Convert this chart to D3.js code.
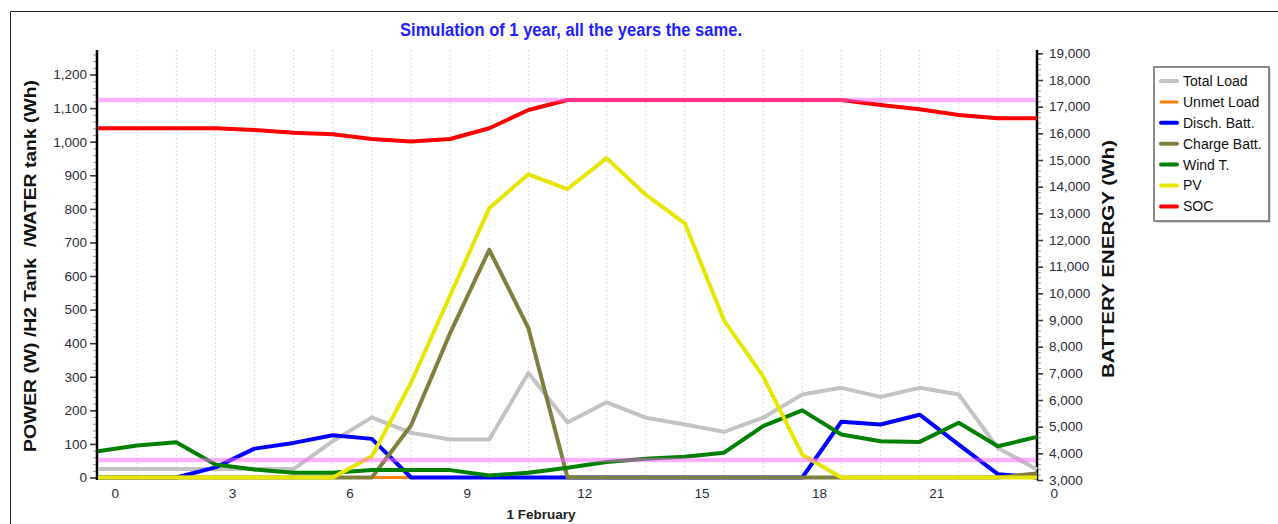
<!DOCTYPE html>
<html>
<head>
<meta charset="utf-8">
<script src="https://cdn.jsdelivr.net/npm/d3@7"></script>
<style>
	body { margin: 0; background: #fff; }
	svg { display: block; font-family: "Liberation Sans", Arial, sans-serif; }
</style>
</head>
<body>
<svg id="chart" width="1278" height="524"></svg>
<script>
// Hourly values for 1 February, hour 0 .. hour 24
const hours = [0, 1, 2, 3, 4, 5, 6, 7, 8, 9, 10, 11, 12, 13, 14, 15, 16, 17, 18, 19, 20, 21, 22, 23, 24]
const hourTicks = [0, 3, 6, 9, 12, 15, 18, 21, 24]
const hourTickLabels = ["0", "3", "6", "9", "12", "15", "18", "21", "0"]

const totalLoad = [25, 25, 25, 25, 25, 25, 108, 179, 133, 113, 113, 311, 164, 224, 178, 158, 136, 178, 247, 267, 240, 267, 247, 88, 24]
const unmetLoad = [0, 0, 0, 0, 0, 0, 0, 0, 0, 0, 0, 0, 0, 0, 0, 0, 0, 0, 0, 0, 0, 0, 0, 0, 0]
const dischBatt = [0, 0, 0, 30, 86, 103, 126, 115, 0, 0, 0, 0, 0, 0, 0, 0, 0, 0, 0, 166, 158, 187, 98, 10, 0]
const chargeBatt = [0, 0, 0, 0, 0, 0, 0, 0, 155, 430, 678, 445, 0, 0, 0, 0, 0, 0, 0, 0, 0, 0, 0, 0, 12]
const windT = [78, 95, 105, 39, 24, 14, 14, 22, 22, 22, 6, 14, 29, 46, 56, 62, 74, 153, 200, 128, 108, 106, 163, 93, 121]
const pv = [0, 0, 0, 0, 0, 0, 0, 63, 282, 542, 802, 903, 859, 951, 842, 757, 468, 301, 68, 0, 0, 0, 0, 0, 0]
const soc = [16190, 16190, 16190, 16190, 16125, 16023, 15962, 15786, 15692, 15786, 16190, 16874, 17250, 17250, 17250, 17250, 17250, 17250, 17250, 17250, 17061, 16900, 16686, 16562, 16562]

// battery SOC limits (max / min), drawn as pink bands
const socLimits = [17250, 3750]

const seriesNames = ["Total Load", "Unmet Load", "Disch. Batt.", "Charge Batt.", "Wind T.", "PV", "SOC"]
const seriesColours = ["#c3c3c3", "#ff8000", "#0000ff", "#7f7f40", "#008000", "#e6e600", "#ff0000"]

const config = {
	width: 1278,
	height: 524,
	plot: { left: 98, right: 1037, top: 50, bottom: 478 },
	lineWidth: 4,
	fontSize: 13.5,
	labelColour: "#2b2b3b",
}

const series = [totalLoad, unmetLoad, dischBatt, chargeBatt, windT, pv, soc].map((values, i) => ({
	name: seriesNames[i],
	colour: seriesColours[i],
	values: values,
	axis: seriesNames[i] === "SOC" ? "right" : "left",
	width: seriesNames[i] === "Unmet Load" ? 3 : config.lineWidth,
}))

const scales = {
	x: d3.scaleLinear()
		.domain([0, 24])
		.range([config.plot.left, config.plot.right]),
	left: d3.scaleLinear()
		.domain([0, 1273])
		.range([477.5, config.plot.top]),
	right: d3.scaleLinear()
		.domain([3000, 19125])
		.range([480, config.plot.top]),
}

const svg = d3.select("#chart")

// Outer frame (top and left edges only are visible)
svg.append("path")
	.attr("d", `M10.5,${config.height} V11.5 H${config.width}`)
	.attr("fill", "none")
	.attr("stroke", "#222")
	.attr("stroke-width", 1)

// Title
svg.append("text")
	.attr("x", 571)
	.attr("y", 36)
	.attr("text-anchor", "middle")
	.attr("textLength", 342)
	.attr("lengthAdjust", "spacingAndGlyphs")
	.style("font-family", "'Liberation Sans Narrow', 'Arial Narrow', 'Liberation Sans', sans-serif")
	.style("font-weight", "bold")
	.style("font-size", "18px")
	.attr("fill", "#1f1fff")
	.text("Simulation of 1 year, all the years the same.")

// Vertical dotted grid, one line per hour
svg.append("g")
	.attr("class", "grid")
	.selectAll("line")
	.data(hours.slice(1, -1))
	.join("line")
	.attr("x1", d => scales.x(d))
	.attr("x2", d => scales.x(d))
	.attr("y1", config.plot.top)
	.attr("y2", config.plot.bottom)
	.attr("stroke", "#dcdcdc")
	.attr("stroke-dasharray", "2,2")

// Left axis: minor ticks, then majors with labels
svg.append("g")
	.attr("transform", `translate(${config.plot.left - 1}, 0)`)
	.call(d3.axisLeft(scales.left).tickValues(d3.range(0, 1273, 20)).tickSize(4).tickFormat(""))
	.call(g => g.select(".domain").remove())
	.call(g => g.selectAll("line").attr("stroke", "#9a9a9a"))

svg.append("g")
	.attr("transform", `translate(${config.plot.left - 1}, 0)`)
	.call(d3.axisLeft(scales.left).tickValues(d3.range(0, 1201, 100)).tickFormat(d3.format(",")).tickSize(7).tickPadding(3))
	.call(g => g.select(".domain").remove())
	.call(g => g.selectAll("line").attr("stroke", "#333").attr("stroke-width", 1.5))
	.call(g => g.selectAll("text")
		.attr("fill", config.labelColour)
		.style("font-size", `${config.fontSize}px`)
		.style("font-family", "'Liberation Sans', Arial, sans-serif"))

// Right axis
svg.append("g")
	.attr("transform", `translate(${config.plot.right}, 0)`)
	.call(d3.axisRight(scales.right).tickValues(d3.range(3000, 19125, 200)).tickSize(4).tickFormat(""))
	.call(g => g.select(".domain").remove())
	.call(g => g.selectAll("line").attr("stroke", "#9a9a9a"))

svg.append("g")
	.attr("transform", `translate(${config.plot.right}, 0)`)
	.call(d3.axisRight(scales.right).tickValues(d3.range(3000, 19001, 1000)).tickFormat(d3.format(",")).tickSize(6).tickPadding(6))
	.call(g => g.select(".domain").remove())
	.call(g => g.selectAll("line").attr("stroke", "#333").attr("stroke-width", 1.5))
	.call(g => g.selectAll("text")
		.attr("fill", config.labelColour)
		.style("font-size", `${config.fontSize}px`)
		.style("font-family", "'Liberation Sans', Arial, sans-serif"))

// Axis lines
svg.selectAll("line.axisLine")
	.data([config.plot.left - 1, config.plot.right])
	.join("line")
	.attr("class", "axisLine")
	.attr("x1", d => d)
	.attr("x2", d => d)
	.attr("y1", config.plot.top)
	.attr("y2", 480)
	.attr("stroke", "#000")
	.attr("stroke-width", 2.5)

// Bottom hour labels, centred inside each hour
svg.append("g")
	.attr("class", "xLabels")
	.selectAll("text")
	.data(hourTicks)
	.join("text")
	.attr("x", d => scales.x(d + 0.44))
	.attr("y", 498)
	.attr("text-anchor", "middle")
	.attr("fill", config.labelColour)
	.style("font-size", `${config.fontSize}px`)
	.text((d, i) => hourTickLabels[i])

svg.append("text")
	.attr("x", 541)
	.attr("y", 519)
	.attr("text-anchor", "middle")
	.style("font-weight", "bold")
	.style("font-size", "13.5px")
	.attr("fill", "#222")
	.text("1 February")

// Axis titles
svg.append("text")
	.attr("transform", "translate(36, 266) rotate(-90)")
	.attr("text-anchor", "middle")
	.attr("textLength", 372)
	.attr("lengthAdjust", "spacingAndGlyphs")
	.style("white-space", "pre")
	.style("font-weight", "bold")
	.style("font-size", "16px")
	.attr("fill", "#111")
	.text("POWER (W) /H2 Tank  /WATER tank (Wh)")

svg.append("text")
	.attr("transform", "translate(1114, 259) rotate(-90)")
	.attr("text-anchor", "middle")
	.attr("textLength", 238)
	.attr("lengthAdjust", "spacingAndGlyphs")
	.style("font-weight", "bold")
	.style("font-size", "16px")
	.attr("fill", "#111")
	.text("BATTERY ENERGY (Wh)")

// Series lines
const line = yScale => d3.line()
	.x((d, i) => scales.x(hours[i]))
	.y(d => yScale(d))

svg.append("g")
	.attr("class", "series")
	.selectAll("path")
	.data(series)
	.join("path")
	.attr("d", s => line(scales[s.axis])(s.values))
	.attr("fill", "none")
	.attr("stroke", s => s.colour)
	.attr("stroke-width", s => s.width)
	.attr("stroke-linejoin", "round")

// SOC limit bands on top
svg.append("g")
	.attr("class", "limits")
	.selectAll("line")
	.data(socLimits)
	.join("line")
	.attr("x1", config.plot.left)
	.attr("x2", config.plot.right - 1)
	.attr("y1", d => scales.right(d))
	.attr("y2", d => scales.right(d))
	.attr("stroke", "#ff66ff")
	.attr("stroke-opacity", 0.5)
	.attr("stroke-width", 4.5)

// Legend
const legend = svg.append("g")
	.attr("transform", "translate(1154, 67)")

legend.append("rect")
	.attr("x", 2)
	.attr("y", 2)
	.attr("width", 115)
	.attr("height", 154)
	.attr("fill", "#d8d8d8")
legend.append("rect")
	.attr("width", 115)
	.attr("height", 154)
	.attr("fill", "#fff")
	.attr("stroke", "#666")
	.attr("stroke-width", 1.5)

const legendItem = legend.selectAll("g.item")
	.data(series)
	.join("g")
	.attr("class", "item")
	.attr("transform", (d, i) => `translate(0, ${14 + i * 20.9})`)

legendItem.append("line")
	.attr("x1", 7)
	.attr("x2", 23)
	.attr("stroke", d => d.colour)
	.attr("stroke-width", d => d.width)
	.attr("stroke-linecap", "round")

legendItem.append("text")
	.attr("x", 29)
	.attr("dy", "0.35em")
	.style("font-size", "14px")
	.attr("fill", "#111")
	.text(d => d.name)
</script>
</body>
</html>
